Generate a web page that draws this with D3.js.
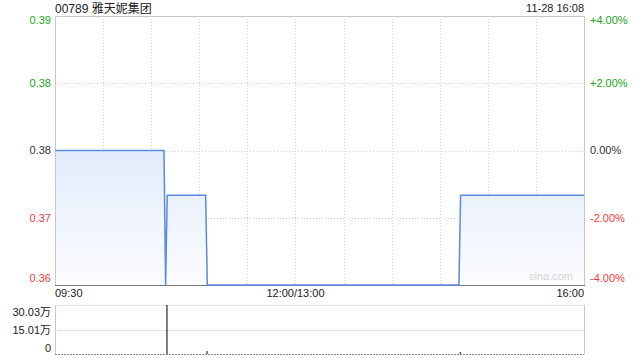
<!DOCTYPE html>
<html><head><meta charset="utf-8">
<script src="https://cdn.jsdelivr.net/npm/d3@7/dist/d3.min.js"></script>
<style>body{margin:0;background:#fff}svg{display:block}text{font-family:"Liberation Sans",Arial,"Noto Sans CJK SC",sans-serif}</style>
</head><body>
<script>
const title = "00789 雅天妮集团";
const stamp = "11-28 16:08";
const prevClose = 0.375;
const times = ["09:30","10:38","10:39","10:40","11:04","11:05","14:42","14:43","16:00"];
const prices = [0.375,0.375,0.36,0.37,0.37,0.36,0.36,0.37,0.37];
const volTimes = ["10:40","11:05","14:43"];
const volumes = [300300,18000,12000];
const volMax = 300300;
const pctTicks = [0.04,0.02,0,-0.02,-0.04];
const timeLabels = ["09:30","12:00/13:00","16:00"];

const W=640,H=360, L=55, R=584, T=16, B=285, VT=305, VB=354;
const svg=d3.select("body").append("svg").attr("width",W).attr("height",H);
function tm(s){const [h,m]=s.split(":").map(Number);const v=h*60+m;return v<=720?v-570:150+(v-780);}
const x=d3.scaleLinear().domain([0,330]).range([L,R]);
const y=d3.scaleLinear().domain([prevClose*0.96,prevClose*1.04]).range([B,T]);
const yv=d3.scaleLinear().domain([0,volMax]).range([VB,VT]);

const defs=svg.append("defs");
const g=defs.append("linearGradient").attr("id","gf").attr("x1",0).attr("y1",0).attr("x2",0).attr("y2",1).attr("gradientUnits","userSpaceOnUse").attr("y1",y(prevClose)).attr("y2",B).attr("x1",0).attr("x2",0);
g.append("stop").attr("offset",0).attr("stop-color","#e3ecfb");
g.append("stop").attr("offset",1).attr("stop-color","#fbfcff");

// grid
const grid="#cfcfcf";
for(let i=1;i<11;i++){const xx=Math.round(x(i*30))+0.5;
  svg.append("line").attr("x1",xx).attr("x2",xx).attr("y1",T).attr("y2",B).attr("stroke",grid).attr("stroke-dasharray","1,2");}
[0.02,0,-0.02].forEach(p=>{const yy=Math.round(y(prevClose*(1+p)))+0.5;
  svg.append("line").attr("x1",L).attr("x2",R).attr("y1",yy).attr("y2",yy).attr("stroke",grid).attr("stroke-dasharray","1,2");});
// volume grid
[VT,(VT+VB)/2].forEach(v=>{const yy=Math.round(v)+0.5;
  svg.append("line").attr("x1",L).attr("x2",R).attr("y1",yy).attr("y2",yy).attr("stroke",grid).attr("stroke-dasharray","1,1");});
svg.append("line").attr("x1",L).attr("x2",R).attr("y1",VB+0.5).attr("y2",VB+0.5).attr("stroke","#888").attr("stroke-dasharray","2,1");

const pts=times.map((t,i)=>[x(tm(t)),y(prices[i])]);
svg.append("path").attr("d",d3.area().x(d=>d[0]).y0(B).y1(d=>d[1])(pts)).attr("fill","url(#gf)");

// borders
const bc="#c8c8c8";
svg.append("path").attr("d",`M${L+0.5},${B}V${T+0.5}H${R+0.5}V${B}`).attr("fill","none").attr("stroke",bc);
svg.append("line").attr("x1",L).attr("x2",R+1).attr("y1",B+0.5).attr("y2",B+0.5).attr("stroke","#777");
svg.append("path").attr("d",`M${L+0.5},${VB}V${VT}M${R+0.5},${VT}V${VB}`).attr("fill","none").attr("stroke",bc);

svg.append("path").attr("d",d3.line()(pts)).attr("fill","none").attr("stroke","#5b8ae0").attr("stroke-width",1.5);

// volume bars
volTimes.forEach((t,i)=>{svg.append("rect").attr("x",x(tm(t))-1).attr("width",1.5).attr("y",yv(volumes[i])).attr("height",VB-yv(volumes[i])).attr("fill","#555");});

// texts
svg.append("text").attr("x",L).attr("y",13).attr("font-size",12).attr("fill","#222").text(title);
svg.append("text").attr("x",R).attr("y",12).attr("font-size",11).attr("fill","#222").attr("text-anchor","end").text(stamp);
const col=p=>p>0?"#1aa31a":p<0?"#f03c3c":"#333";
pctTicks.forEach((p,i)=>{let yy=y(prevClose*(1+p)); if(i===0) yy+=4; if(i===pctTicks.length-1) yy-=7;
  svg.append("text").attr("x",51).attr("y",yy).attr("dy","0.35em").attr("text-anchor","end").attr("font-size",11).attr("fill",col(p)).text((prevClose*(1+p)).toFixed(2));
  svg.append("text").attr("x",590).attr("y",yy).attr("dy","0.35em").attr("font-size",11).attr("fill",col(p)).text((p>0?"+":"")+(p*100).toFixed(2)+"%");});
const tx=[L,x(150),R], ta=["start","middle","end"];
timeLabels.forEach((s,i)=>svg.append("text").attr("x",tx[i]).attr("y",293).attr("dy","0.35em").attr("text-anchor",ta[i]).attr("font-size",11).attr("fill","#222").text(s));
const vl=[[volMax,"30.03万",VT+7],[volMax/2,"15.01万",(VT+VB)/2+1],[0,"0",VB-6]];
vl.forEach(d=>svg.append("text").attr("x",51).attr("y",d[2]).attr("dy","0.35em").attr("text-anchor","end").attr("font-size",11).attr("fill","#222").text(d[1]));
svg.append("text").attr("x",573).attr("y",280).attr("text-anchor","end").attr("font-size",11).attr("fill","#d4d4d4").text("sina.com");
</script>
</body></html>
